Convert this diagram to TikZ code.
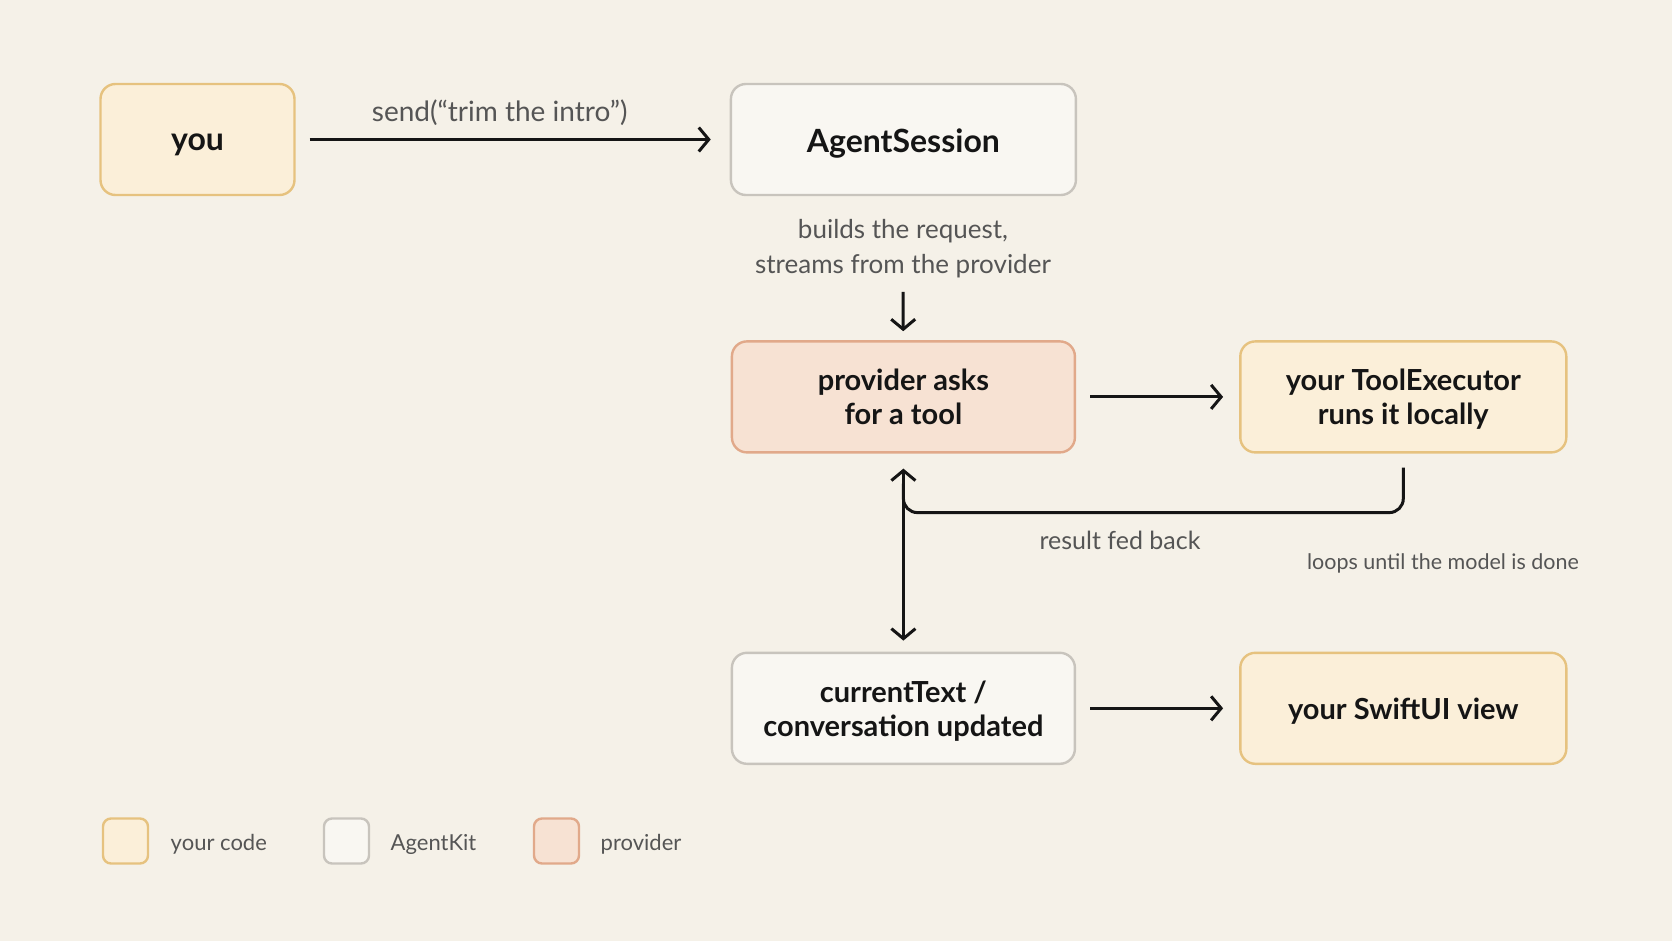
\documentclass[tikz,border=0pt]{standalone}
\usepackage{fontspec}
\setmainfont{Lato}
\usepackage{xcolor}
\definecolor{Paper}{HTML}{F5F1E8}
\definecolor{Ink}{HTML}{151515}
\definecolor{Muted}{HTML}{555555}
\definecolor{CodeFill}{HTML}{FBEFD9}
\definecolor{CodeRule}{HTML}{E6C27F}
\definecolor{KitFill}{HTML}{F9F7F2}
\definecolor{KitRule}{HTML}{C8C4BD}
\definecolor{ProvFill}{HTML}{F7E2D3}
\definecolor{ProvRule}{HTML}{E1A98A}
\usetikzlibrary{arrows.meta,positioning,calc}
\tikzset{
  box/.style={draw,line width=2.4pt,rounded corners=15pt,minimum height=111pt,
    align=center,text=Ink,font=\fontsize{29}{34}\selectfont\bfseries,inner sep=2pt,text depth=0pt},
  big/.style={font=\fontsize{32}{36}\selectfont\bfseries},
  yours/.style={box,draw=CodeRule,fill=CodeFill},
  kit/.style={box,draw=KitRule,fill=KitFill},
  prov/.style={box,draw=ProvRule,fill=ProvFill},
  swatch/.style={draw,line width=2.4pt,rounded corners=8pt,minimum size=45pt,inner sep=0pt},
  arrow/.style={-{Straight Barb[length=10pt,width=24pt,line width=3pt]},line width=3pt,draw=Ink},
  both/.style={arrow,{Straight Barb[length=10pt,width=24pt,line width=3pt]}-{Straight Barb[length=10pt,width=24pt,line width=3pt]}},
  note/.style={font=\fontsize{26}{35}\selectfont,text=Muted,align=center},
  legend/.style={font=\fontsize{22}{26}\selectfont,text=Muted,anchor=west}
}
\begin{document}
\begin{tikzpicture}[x=1pt,y=-1pt]
\fill[Paper] (0,0) rectangle (1672,941);
\useasboundingbox (0,0) rectangle (1672,941);
% main flow
\node[yours,big,minimum width=194pt,text height=22.5pt] (you) at (197.5,139.5) {you};
\node[kit,big,minimum width=345pt,text height=27pt,right=434pt of you] (session) {AgentSession};
\node[prov,minimum width=343pt,below=144pt of session] (asks) {provider asks\\for a tool};
\node[yours,minimum width=326pt,right=163pt of asks] (executor) {your ToolExecutor\\runs it locally};
\node[kit,minimum width=343pt,below=198pt of asks] (updated) {currentText /\\conversation updated};
\node[yours,minimum width=326pt,right=163pt of updated] (view) {your SwiftUI view};
% labels
\node[note] (builds) at (903,249) {builds the request,\\streams from the provider};
\node[note,font=\fontsize{25}{30}\selectfont] (fedback) at (1120,540) {result fed back};
\node[note,font=\fontsize{21.5}{24}\selectfont] (loops) at (1443,563) {loops until the model is done};
% connectors
\draw[arrow,shorten <=14pt,shorten >=19pt] (you) -- node[note,font=\fontsize{28}{30}\selectfont,pos=0.47,above=9pt] (sendlbl) {send(“trim the intro”)} (session);
\draw[arrow,shorten <=10pt,shorten >=9pt] (builds) -- (asks);
\draw[arrow,shorten <=14pt,shorten >=16pt] (asks) -- (executor);
\draw[arrow,shorten <=14pt,shorten >=16pt] (updated) -- (view);
\coordinate (turn) at ($(asks.south)+(0,59)$);
\draw[line width=3pt,draw=Ink,rounded corners=14pt] ([yshift=-14pt]executor.south) |- (turn) -- ([yshift=-30pt]asks.south);
\draw[both,shorten <=15pt,shorten >=11pt] (asks.south) -- (updated.north);
% legend
\node[swatch,draw=CodeRule,fill=CodeFill] (legyou) at (125.5,841) {};
\node[legend,right=18pt of legyou,yshift=-3pt] (legyoutxt) {your code};
\node[swatch,draw=KitRule,fill=KitFill] (legkit) at (346.5,841) {};
\node[legend,right=17pt of legkit,yshift=-3pt] (legkittxt) {AgentKit};
\node[swatch,draw=ProvRule,fill=ProvFill] (legprov) at (556.5,841) {};
\node[legend,right=17pt of legprov,yshift=-3pt] (legprovtxt) {provider};
\end{tikzpicture}
\end{document}
